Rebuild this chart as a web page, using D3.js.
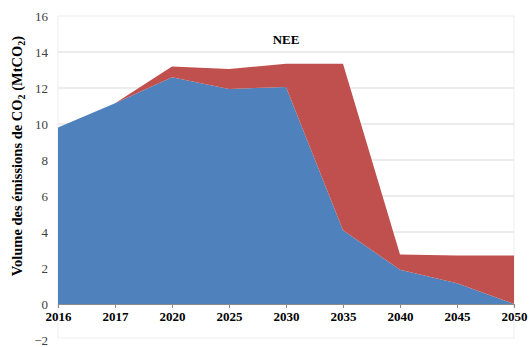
<!DOCTYPE html>
<html>
<head>
<meta charset="utf-8">
<script src="https://cdn.jsdelivr.net/npm/d3@7"></script>
<style>
  body { margin: 0; background: #fff; }
  text { font-family: "Liberation Serif", "Times New Roman", serif; }
</style>
</head>
<body>
<div id="container"></div>
<script>
var years = ['2016', '2017', '2020', '2025', '2030', '2035', '2040', '2045', '2050']
var blueSeries = [9.8, 11.15, 12.6, 11.95, 12.05, 4.1, 1.9, 1.15, 0]
var redSeries = [0, 0, 0.6, 1.1, 1.3, 9.25, 0.85, 1.55, 2.7]
var yTicks = [-2, 0, 2, 4, 6, 8, 10, 12, 14, 16]

var width = 530, height = 347
var svg = d3.select('#container').append('svg').attr('width', width).attr('height', height)

var x = d3.scalePoint().domain(years).range([58, 514])
var y = d3.scaleLinear().domain([-2, 16]).range([340, 16])

// plot frame
svg.append('rect')
  .attr('x', 58).attr('y', y(16))
  .attr('width', 456).attr('height', y(-2) - y(16) - 2)
  .attr('fill', 'none').attr('stroke', '#eeeeee')

// gridlines
svg.selectAll('line.grid')
  .data(yTicks.filter(function (d) { return d > 0 && d < 16 }))
  .enter().append('line')
  .attr('class', 'grid')
  .attr('x1', 58).attr('x2', 514)
  .attr('y1', function (d) { return y(d) }).attr('y2', function (d) { return y(d) })
  .attr('stroke', '#e6e6e6').attr('stroke-width', 1.5)

var stacked = d3.stack().keys(['blue', 'red'])(years.map(function (yr, i) {
  return { year: yr, blue: blueSeries[i], red: redSeries[i] }
}))
var colors = { blue: '#4F81BD', red: '#C0504D' }

var area = d3.area()
  .x(function (d) { return x(d.data.year) })
  .y0(function (d) { return y(d[0]) })
  .y1(function (d) { return y(d[1]) })

svg.selectAll('path.area')
  .data(stacked)
  .enter().append('path')
  .attr('class', 'area')
  .attr('d', area)
  .attr('fill', function (d) { return colors[d.key] })

// zero axis
var xAxis = svg.append('g')
  .attr('transform', 'translate(0,' + y(0) + ')')
  .call(d3.axisBottom(x).tickSize(4).tickPadding(4))
xAxis.select('.domain').attr('stroke', '#8c8c8c').attr('stroke-width', 1.2)
xAxis.selectAll('.tick line').attr('stroke', '#8c8c8c')
xAxis.selectAll('.tick text')
  .attr('font-size', 13).attr('font-weight', 'bold').attr('fill', '#000')
  .style('font-family', '"Liberation Serif", serif')

// y labels
var yAxis = svg.append('g')
  .attr('transform', 'translate(58,0)')
  .call(d3.axisLeft(y).tickValues(yTicks).tickSize(0).tickPadding(10))
yAxis.select('.domain').remove()
yAxis.selectAll('.tick text')
  .attr('font-size', 13).attr('fill', '#404040')
  .style('font-family', '"Liberation Serif", serif')

// title
svg.append('text')
  .attr('x', x('2030')).attr('y', 44)
  .attr('text-anchor', 'middle')
  .attr('font-size', 13).attr('font-weight', 'bold')
  .text('NEE')

// y axis title
var yt = svg.append('text')
  .attr('transform', 'translate(22,156) rotate(-90)')
  .attr('text-anchor', 'middle')
  .attr('font-size', 14.5).attr('font-weight', 'bold')
yt.append('tspan').text('Volume des émissions de CO')
yt.append('tspan').attr('font-size', 10).attr('dy', 3).text('2')
yt.append('tspan').attr('dy', -3).text(' (MtCO')
yt.append('tspan').attr('font-size', 10).attr('dy', 3).text('2')
yt.append('tspan').attr('dy', -3).text(')')
</script>
</body>
</html>
